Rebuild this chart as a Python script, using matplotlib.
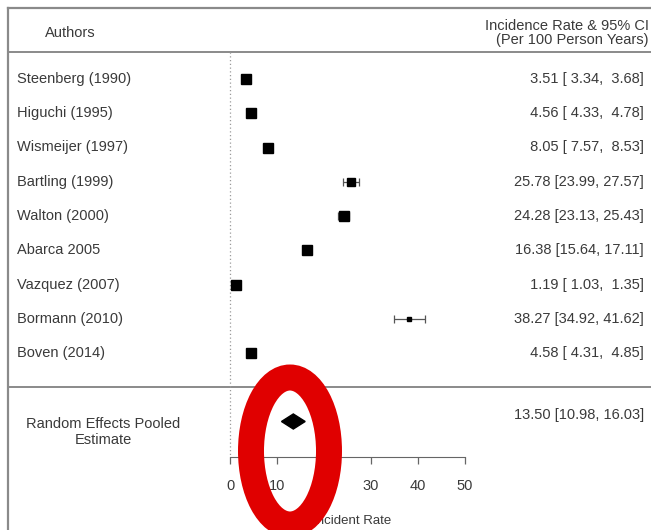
import numpy as np
import matplotlib
matplotlib.use("Agg")
import matplotlib.pyplot as plt
from matplotlib.patches import Ellipse
import matplotlib.transforms as mtransforms

plt.rcParams['font.family'] = ['Liberation Sans', 'DejaVu Sans']

# study data (incidence rate per 100 person years, 95% CI)
authors = ["Steenberg (1990)", "Higuchi (1995)", "Wismeijer (1997)", "Bartling (1999)",
           "Walton (2000)", "Abarca 2005", "Vazquez (2007)", "Bormann (2010)", "Boven (2014)"]
rate = [3.51, 4.56, 8.05, 25.78, 24.28, 16.38, 1.19, 38.27, 4.58]
ci_low = [3.34, 4.33, 7.57, 23.99, 23.13, 15.64, 1.03, 34.92, 4.31]
ci_high = [3.68, 4.78, 8.53, 27.57, 25.43, 17.11, 1.35, 41.62, 4.85]

pooled_rate = 13.50
pooled_low = 10.98
pooled_high = 16.03

xticks = [0, 10, 20, 30, 40, 50]
xtick_labels = ["0", "10", "20", "30", "40", "50"]

# square sizes (points)
marker_sizes = [7.2, 7.9, 7.2, 5.8, 7.2, 7.2, 7.2, 2.2, 7.2]

fs = 10.5
txt_col = "#3a3a3a"
W, H = 651, 530
fig = plt.figure(figsize=(W / 100, H / 100), dpi=100)
ax = fig.add_axes([0, 0, 1, 1])

px_per_unit = 4.69
x0_px = 230
ax.set_xlim(-x0_px / px_per_unit, (W - x0_px) / px_per_unit)
row_px = 34.25
row0_px = 79
ax.set_ylim((H - row0_px) / row_px, -row0_px / row_px)

bt = mtransforms.blended_transform_factory(ax.transAxes, ax.transData)

rows = np.arange(len(authors))
pooled_row = len(authors) + 1

# frame lines
left_x = 8 / W
ax.plot([left_x, 1], [-2.07, -2.07], color="#8a8a8a", lw=1.6, transform=bt, clip_on=False)
ax.plot([left_x, 1], [-0.8, -0.8], color="#8a8a8a", lw=1.4, transform=bt)
ax.plot([left_x, 1], [9.0, 9.0], color="#8a8a8a", lw=1.4, transform=bt)
ax.plot([left_x, left_x], [-2.07, 14], color="#8a8a8a", lw=1.6, transform=bt)

# reference line at zero
ax.plot([0, 0], [-0.8, 11.04], color="#9a9a9a", lw=0.9, ls=(0, (1, 2)))

# studies
for i in rows:
    ax.errorbar(rate[i], i, xerr=[[rate[i] - ci_low[i]], [ci_high[i] - rate[i]]],
                fmt="none", ecolor="#555555", elinewidth=0.9, capsize=3, capthick=0.9)
    ax.plot(rate[i], i, marker="s", ms=marker_sizes[i], color="black", mec="black")
    ax.text(17 / W, i, authors[i], transform=bt, ha="left", va="center",
            fontsize=fs, color=txt_col)
    ax.text(644 / W, i, "{:5.2f} [{:5.2f}, {:5.2f}]".format(rate[i], ci_low[i], ci_high[i]),
            transform=bt, ha="right", va="center", fontsize=fs, color=txt_col)

# pooled estimate diamond
dh = 0.22
ax.fill([pooled_low, pooled_rate, pooled_high, pooled_rate],
        [pooled_row, pooled_row - dh, pooled_row, pooled_row + dh], color="black")
ax.text(103 / W, pooled_row + 0.3, "Random Effects Pooled\nEstimate", transform=bt,
        ha="center", va="center", fontsize=fs, color=txt_col, linespacing=1.2)
ax.text(644 / W, pooled_row - 0.2, "{:5.2f} [{:5.2f}, {:5.2f}]".format(pooled_rate, pooled_low, pooled_high),
        transform=bt, ha="right", va="center", fontsize=fs, color=txt_col)

# headers
ax.text(70 / W, -1.35, "Authors", transform=bt, ha="center", va="center",
        fontsize=fs, color=txt_col)
ax.text(649 / W, -1.35, "Incidence Rate & 95% CI\n(Per 100 Person Years)", transform=bt,
        ha="right", va="center", fontsize=fs, color=txt_col, linespacing=1.0)

# x axis
for s in ["top", "left", "right"]:
    ax.spines[s].set_visible(False)
ax.spines["bottom"].set_position(("data", 11.04))
ax.spines["bottom"].set_bounds(0, 50)
ax.spines["bottom"].set_color("#666666")
ax.set_xticks(xticks)
ax.set_xticklabels(xtick_labels)
ax.tick_params(axis="x", direction="out", length=5, width=0.9, color="#666666",
               labelsize=fs, labelcolor=txt_col, pad=11)
ax.set_yticks([])
ax.text(26, 12.9, "Incident Rate", ha="center", va="center", fontsize=9.5, color=txt_col)

# red ellipse annotation
ell = Ellipse((290 / W, 1 - 451 / H), 78 / W, 147 / H, transform=ax.transAxes,
              fill=False, edgecolor="#e00000", lw=18.7, zorder=10, clip_on=False)
ax.add_patch(ell)

fig.savefig("out.png", dpi=100)
